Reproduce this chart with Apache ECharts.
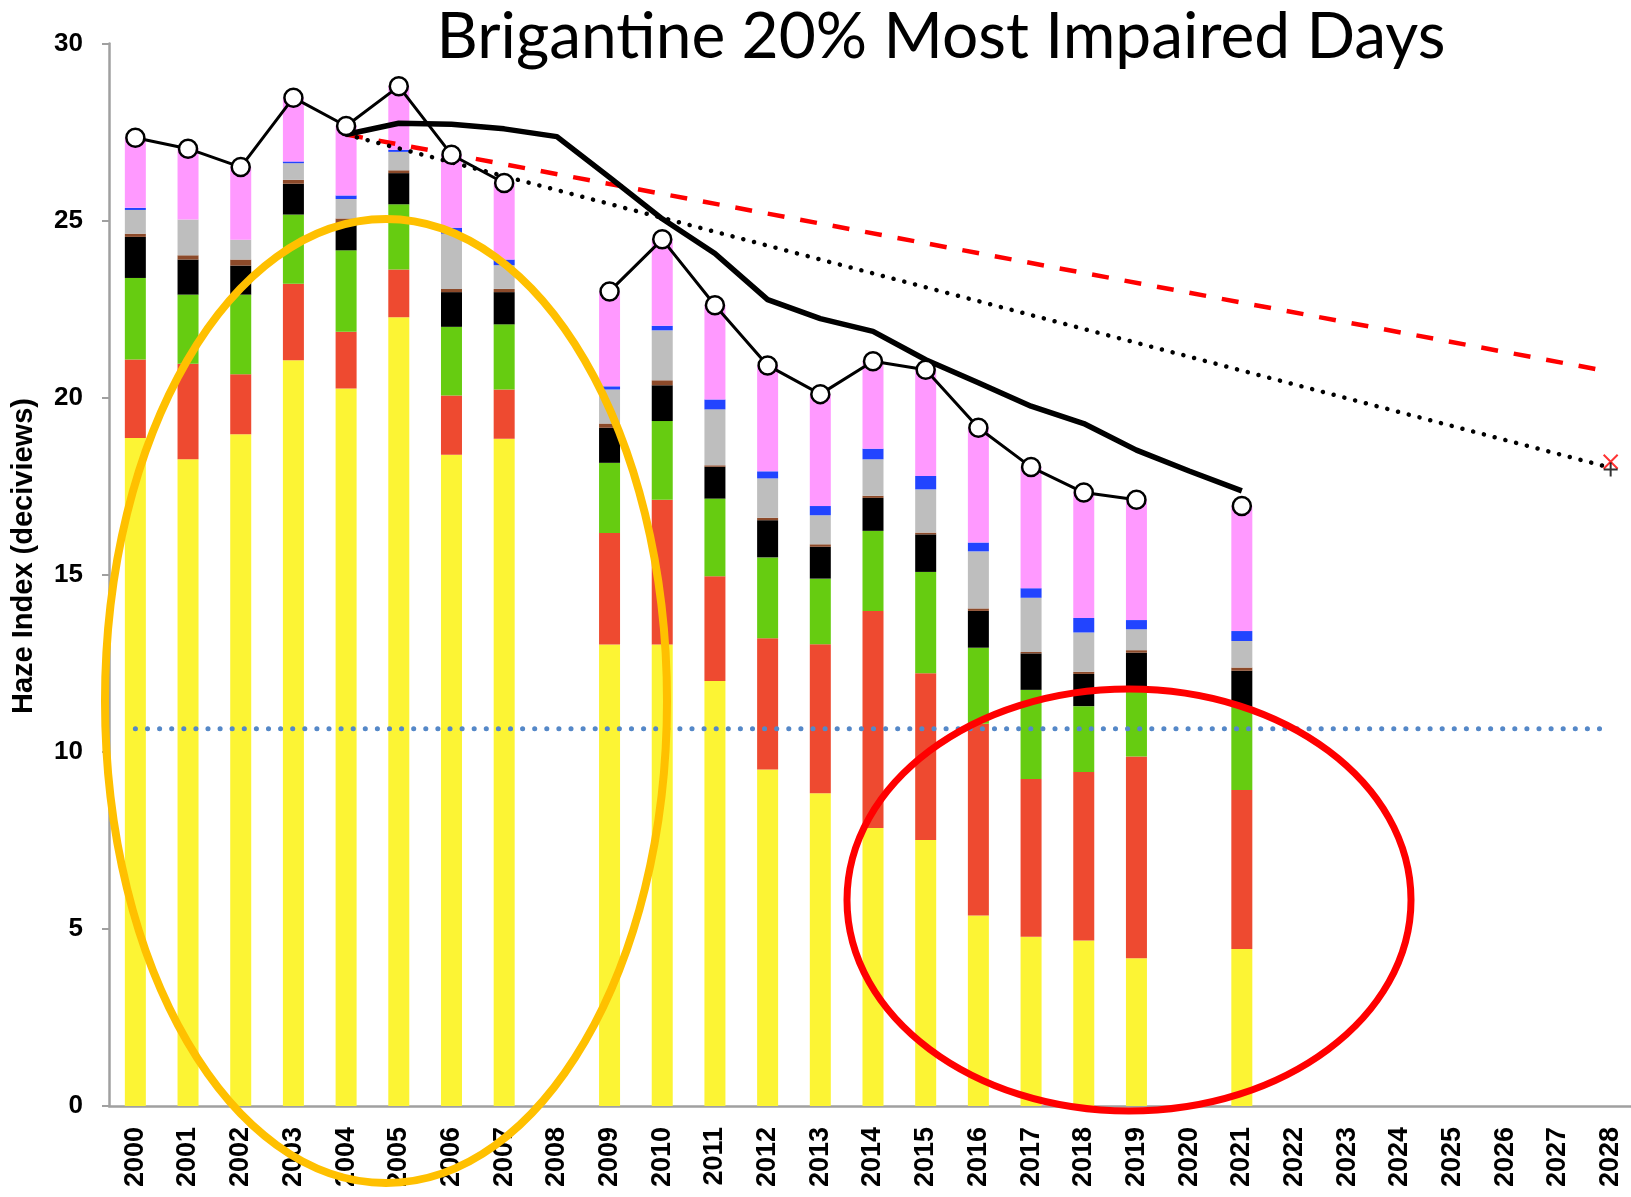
<!DOCTYPE html>
<html>
<head>
<meta charset="utf-8">
<script src="https://cdn.jsdelivr.net/npm/echarts@6/dist/echarts.min.js"></script>
<style>
  html, body { margin: 0; padding: 0; background: #fff; overflow: hidden; }
  #chart { width: 1660px; height: 1197px; }
</style>
</head>
<body>
<div id="chart"></div>
<script>
// years on the x axis
const years = ['2000','2001','2002','2003','2004','2005','2006','2007','2008','2009',
  '2010','2011','2012','2013','2014','2015','2016','2017','2018','2019',
  '2020','2021','2022','2023','2024','2025','2026','2027','2028'];

// stacked species contributions (deciviews), bottom to top
const sulfate  = [18.86,18.26,18.97,21.06,20.26,22.27,18.39,18.84,null,13.03,13.03,12.00,9.50,8.83,7.85,7.51,5.38,4.78,4.67,4.17,null,4.43,null,null,null,null,null,null,null];
const nitrate  = [2.22,2.70,1.69,2.16,1.60,1.35,1.67,1.39,null,3.15,4.09,2.96,3.71,4.21,6.13,4.71,5.41,4.45,4.76,5.70,null,4.49,null,null,null,null,null,null,null];
const organic  = [2.30,1.95,2.25,1.95,2.30,1.84,1.94,1.84,null,1.98,2.22,2.19,2.28,1.85,2.26,2.86,2.15,2.52,1.86,1.98,null,2.35,null,null,null,null,null,null,null];
const elemC    = [1.16,0.99,0.82,0.87,0.77,0.88,0.98,0.91,null,0.99,1.01,0.90,1.05,0.90,0.93,1.06,1.04,1.03,0.91,0.95,null,1.02,null,null,null,null,null,null,null];
const soil     = [0.09,0.12,0.17,0.11,0.13,0.08,0.09,0.09,null,0.12,0.14,0.04,0.07,0.07,0.06,0.05,0.07,0.04,0.06,0.07,null,0.09,null,null,null,null,null,null,null];
const coarse   = [0.67,1.01,0.56,0.47,0.55,0.52,1.56,0.67,null,0.96,1.41,1.58,1.11,0.82,1.03,1.22,1.61,1.53,1.11,0.59,null,0.75,null,null,null,null,null,null,null];
const seaSalt  = [0.06,0.00,0.00,0.05,0.10,0.06,0.17,0.16,null,0.09,0.13,0.28,0.20,0.26,0.30,0.38,0.25,0.27,0.41,0.26,null,0.28,null,null,null,null,null,null,null];
const rayleigh = [1.98,2.00,2.05,1.80,1.96,1.79,2.06,2.16,null,2.68,2.44,2.66,2.99,3.16,2.47,3.00,3.24,3.42,3.54,3.40,null,3.53,null,null,null,null,null,null,null];

// observed haze index and 5-year rolling average
const observed = [27.34,27.03,26.51,28.47,27.67,28.79,26.86,26.06,null,23.00,24.47,22.61,20.91,20.10,21.03,20.79,19.15,18.04,17.32,17.12,null,16.94,null,null,null,null,null,null,null];
const rolling  = [null,null,null,null,27.43,27.75,27.72,27.59,27.37,26.22,25.05,24.07,22.77,22.23,21.87,21.07,20.42,19.76,19.27,18.52,17.93,17.37,null,null,null,null,null,null,null];

// glide paths, natural conditions, 2028 goals
const glideRed    = [['2004', 27.43], ['2028', 20.73]];
const glideDotted = [['2004', 27.43], ['2028', 18.02]];
const natural     = [['2000', 10.65], ['2028', 10.65]];
const goalX       = [['2028', 18.19]];
const goalPlus    = [['2028', 17.97]];

const yTicks = { min: 0, max: 30, interval: 5 };

const stackDefs = [
  { name: 'Sulfate', data: sulfate, color: '#FCF434' },
  { name: 'Nitrate', data: nitrate, color: '#EE4A30' },
  { name: 'Organic', data: organic, color: '#66CC11' },
  { name: 'EC', data: elemC, color: '#000000' },
  { name: 'Soil', data: soil, color: '#8C4A2A' },
  { name: 'Coarse', data: coarse, color: '#BEBEBE' },
  { name: 'Sea Salt', data: seaSalt, color: '#2244FF' },
  { name: 'Rayleigh', data: rayleigh, color: '#FF99FF' }
];

const chart = echarts.init(document.getElementById('chart'));

const series = stackDefs.map(d => ({
  name: d.name,
  type: 'bar',
  stack: 'total',
  barWidth: 21,
  data: d.data,
  itemStyle: { color: d.color },
  z: 2
}));

series.push({
  name: 'Natural', type: 'line', data: natural, symbol: 'none', z: 5,
  lineStyle: { color: '#5588C8', width: 5, type: [0.1, 12], cap: 'round' }
});
series.push({
  name: 'Glide red', type: 'line', data: glideRed, symbol: 'none', z: 4,
  lineStyle: { color: '#FF0000', width: 4.5, type: [17, 16] }
});
series.push({
  name: 'Glide dotted', type: 'line', data: glideDotted, symbol: 'none', z: 4,
  lineStyle: { color: '#000000', width: 4.5, type: [0.1, 11], cap: 'round' }
});
series.push({
  name: 'Rolling', type: 'line', data: rolling, symbol: 'none', z: 6,
  lineStyle: { color: '#000000', width: 5.5 }
});
series.push({
  name: 'Observed', type: 'line', data: observed, z: 7,
  symbol: 'circle', symbolSize: 18, showAllSymbol: true,
  lineStyle: { color: '#000000', width: 3 },
  itemStyle: { color: '#FFFFFF', borderColor: '#000000', borderWidth: 2.5 }
});
series.push({
  name: 'Goal X', type: 'scatter', data: goalX, z: 8,
  symbol: 'path://M0,0L10,10M10,0L0,10', symbolSize: 14,
  itemStyle: { color: 'transparent', borderColor: '#FF0000', borderWidth: 2 }
});
series.push({
  name: 'Goal plus', type: 'scatter', data: goalPlus, z: 8,
  symbol: 'path://M5,0L5,10M0,5L10,5', symbolSize: 14,
  itemStyle: { color: 'transparent', borderColor: '#000000', borderWidth: 2 }
});

chart.setOption({
  animation: false,
  backgroundColor: '#FFFFFF',
  title: {
    text: 'Brigantine 20% Most Impaired Days',
    left: 936, top: 0, textAlign: 'center',
    textStyle: { fontFamily: 'Lato', fontWeight: 'normal', fontSize: 64, color: '#000000' }
  },
  grid: { left: 109, top: 43.5, width: 1528, height: 1062.5 },
  xAxis: {
    type: 'category',
    data: years,
    axisLine: { lineStyle: { color: '#A0A0A0', width: 2.5 } },
    axisTick: { show: false },
    axisLabel: {
      rotate: 90, margin: 21, interval: 0,
      fontFamily: 'Liberation Sans', fontWeight: 'bold', fontSize: 27, color: '#000000'
    }
  },
  yAxis: {
    type: 'value',
    min: yTicks.min, max: yTicks.max, interval: yTicks.interval,
    axisLine: { show: true, lineStyle: { color: '#A0A0A0', width: 2.5 } },
    axisTick: { show: true, length: 7, lineStyle: { color: '#A0A0A0', width: 2 } },
    splitLine: { show: false },
    axisLabel: {
      margin: 26,
      fontFamily: 'Liberation Sans', fontWeight: 'bold', fontSize: 26, color: '#000000'
    }
  },
  series: series,
  graphic: [
    {
      type: 'text', z: 50, silent: true,
      x: 24, y: 556, rotation: Math.PI / 2,
      style: {
        text: 'Haze Index (deciviews)',
        fontFamily: 'Liberation Sans', fontWeight: 'bold', fontSize: 29,
        fill: '#000000', align: 'center', verticalAlign: 'middle'
      }
    },
    {
      type: 'ellipse', z: 100, silent: true,
      shape: { cx: 386, cy: 701, rx: 281, ry: 482 },
      style: { fill: 'none', stroke: '#FFC000', lineWidth: 8 }
    },
    {
      type: 'ellipse', z: 100, silent: true,
      shape: { cx: 1129, cy: 900, rx: 282, ry: 211 },
      style: { fill: 'none', stroke: '#FF0000', lineWidth: 7 }
    }
  ]
});
</script>
</body>
</html>
